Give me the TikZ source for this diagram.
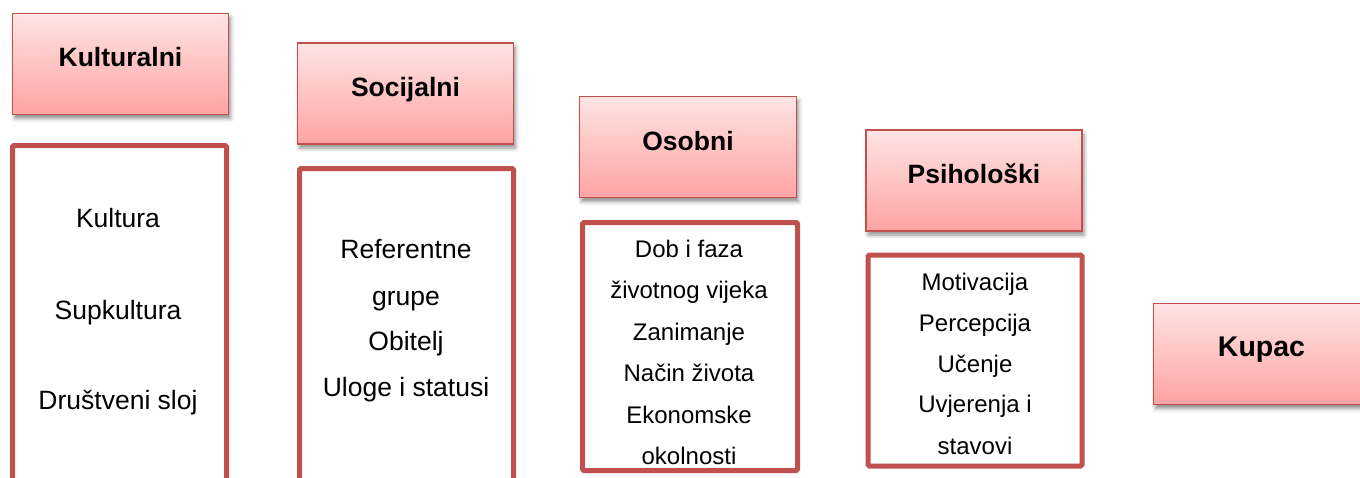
\documentclass[tikz,border=0pt]{standalone}
\usepackage{fontspec}
\setmainfont{Liberation Sans}
\usetikzlibrary{shadows.blur}
\definecolor{brd}{HTML}{C0504D}
\definecolor{htop}{HTML}{FFE4E4}
\definecolor{hbot}{HTML}{FFA3A3}
\tikzset{
  hdr/.style={rectangle, draw=brd, line width=1.5pt, top color=htop, bottom color=hbot,
    anchor=north west, inner sep=0pt, outer sep=0pt,
    blur shadow={shadow xshift=2pt, shadow yshift=-4pt, shadow blur radius=4pt, shadow opacity=45}},
  body/.style={rectangle, draw=brd, line width=5pt, fill=white, rounded corners=1.5pt,
    anchor=north west, inner sep=0pt, outer sep=0pt},
  htxt/.style={anchor=base, font=\fontsize{26.5}{30}\selectfont\bfseries, inner sep=0pt},
  btxt/.style={anchor=base, font=\fontsize{26.5}{30}\selectfont, inner sep=0pt},
  stxt/.style={anchor=base, font=\fontsize{24}{28}\selectfont, inner sep=0pt},
}
\begin{document}
\begin{tikzpicture}[x=1pt,y=-1pt]
\useasboundingbox (0,0) rectangle (1360,477);
\clip (0,0) rectangle (1360,477);
% headers
\node[hdr, minimum width=216pt, minimum height=101pt] (h1) at (12.5,13.5) {};
\node[hdr, minimum width=216pt, minimum height=101pt] (h2) at (297.5,43) {};
\node[hdr, minimum width=217pt, minimum height=101pt] (h3) at (579.5,96.5) {};
\node[hdr, minimum width=216pt, minimum height=101pt] (h4) at (866,130) {};
\node[hdr, minimum width=230pt, minimum height=101pt] (kupac) at (1153.5,303.5) {};
\node[htxt] (t1) at (120.5,66) {Kulturalni};
\node[htxt] (t2) at (405.5,96) {Socijalni};
\node[htxt] (t3) at (688,150) {Osobni};
\node[htxt] (t4) at (974,183) {Psihološki};
\node[htxt, font=\fontsize{28.5}{32}\selectfont\bfseries] (t5) at (1261.5,356.5) {Kupac};
% bodies
\node[body, minimum width=214pt, minimum height=400pt] (b1) at (12.5,145.5) {};
\node[body, minimum width=214pt, minimum height=380pt] (b2) at (299.5,168.5) {};
\node[body, minimum width=215pt, minimum height=248pt] (b3) at (582.5,222.5) {};
\node[body, minimum width=214pt, minimum height=211pt] (b4) at (868,255) {};
% body texts
\node[btxt] (k1) at (118,227) {Kultura};
\node[btxt] (k2) at (118,319) {Supkultura};
\node[btxt] (k3) at (118,409) {Društveni sloj};
\node[btxt] (s1) at (406,258) {Referentne};
\node[btxt] (s2) at (406,305) {grupe};
\node[btxt] (s3) at (406,350) {Obitelj};
\node[btxt] (s4) at (406,396) {Uloge i statusi};
\node[stxt] (o1) at (689,257) {Dob i faza};
\node[stxt] (o2) at (689,298) {životnog vijeka};
\node[stxt] (o3) at (689,340) {Zanimanje};
\node[stxt] (o4) at (689,381) {Način života};
\node[stxt] (o5) at (689,423) {Ekonomske};
\node[stxt] (o6) at (689,464) {okolnosti};
\node[stxt] (p1) at (975,290) {Motivacija};
\node[stxt] (p2) at (975,331) {Percepcija};
\node[stxt] (p3) at (975,372) {Učenje};
\node[stxt] (p4) at (975,412) {Uvjerenja i};
\node[stxt] (p5) at (975,454) {stavovi};
\end{tikzpicture}
\end{document}
